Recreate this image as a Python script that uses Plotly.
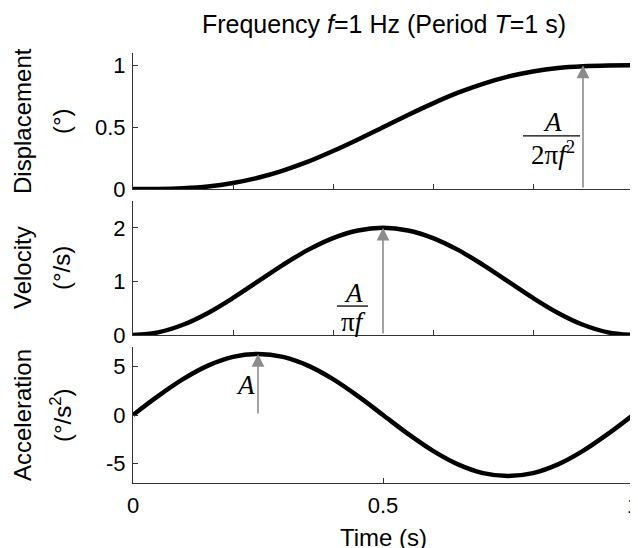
import plotly.graph_objects as go
from plotly.subplots import make_subplots

# ---- data ----
time_s = [0.00, 0.05, 0.10, 0.15, 0.20, 0.25, 0.30, 0.35, 0.40, 0.45, 0.50,
          0.55, 0.60, 0.65, 0.70, 0.75, 0.80, 0.85, 0.90, 0.95, 1.00]
displacement = [0.000, 0.001, 0.007, 0.021, 0.049, 0.091, 0.149, 0.221, 0.307, 0.401, 0.500,
                0.599, 0.693, 0.779, 0.851, 0.909, 0.951, 0.979, 0.993, 0.999, 1.000]
velocity = [0.000, 0.049, 0.191, 0.412, 0.691, 1.000, 1.309, 1.588, 1.809, 1.951, 2.000,
            1.951, 1.809, 1.588, 1.309, 1.000, 0.691, 0.412, 0.191, 0.049, 0.000]
acceleration = [0.00, 1.94, 3.69, 5.08, 5.98, 6.28, 5.98, 5.08, 3.69, 1.94, 0.00,
                -1.94, -3.69, -5.08, -5.98, -6.28, -5.98, -5.08, -3.69, -1.94, 0.00]

arrow_x = [0.9, 0.5, 0.25]          # time of each amplitude arrow
arrow_top = [1.0, 2.0, 6.28]        # amplitude reached by each arrow

y_titles = [("Displacement", "(°)"), ("Velocity", "(°/s)"), ("Acceleration", "(°/s<sup>2</sup>)")]
y_ranges = [[0, 1.1], [0, 2.5], [-7, 7]]
y_ticks = [[0, 0.5, 1], [0, 1, 2], [-5, 0, 5]]
y_ticktext = [["0", "0.5", "1"], ["0", "1", "2"], ["-5", "0", "5"]]
x_ticks_minor = [0, 0.2, 0.4, 0.6, 0.8, 1]
x_ticks_main = [0, 0.5, 1]
x_ticktext = ["0", "0.5", "1"]

W, H = 638, 548
OFF = 8                      # page body margin offsets the figure by 8px
L = 133 - OFF
R = W - (633 - OFF)
PW = W - L - R
# pixel extents (top, bottom) of each panel in the reference picture
panels = [(53, 189), (201, 335), (347, 483)]


def py(p):  # reference pixel row -> paper fraction
    return 1 - (p - OFF) / H


def px(p):  # reference pixel column -> paper fraction
    return (p - OFF - L) / PW


fig = make_subplots(rows=3, cols=1, shared_xaxes=False)

series = [displacement, velocity, acceleration]
for i, ys in enumerate(series):
    fig.add_trace(go.Scatter(x=time_s, y=ys, mode="lines", line=dict(color="black", width=4.5, shape="spline"),
                             showlegend=False, hoverinfo="skip", cliponaxis=False), row=i + 1, col=1)

sans = "Liberation Sans, Arial, sans-serif"
tick_font = dict(family=sans, size=22, color="black")
axis_col = "#333333"
for i in range(3):
    top, bot = panels[i]
    dom = [py(bot), py(top)]
    yname = "yaxis" if i == 0 else f"yaxis{i+1}"
    xname = "xaxis" if i == 0 else f"xaxis{i+1}"
    fig.layout[yname].update(domain=dom, range=y_ranges[i], tickvals=y_ticks[i], ticktext=y_ticktext[i],
                             showgrid=False, zeroline=False, showline=True, linecolor=axis_col, linewidth=1.2,
                             ticks="inside", ticklen=5, tickcolor=axis_col, tickfont=tick_font,
                             ticklabelstandoff=2, automargin=False, ticklabeloverflow="allow")
    last = (i == 2)
    fig.layout[xname].update(domain=[0, 1], range=[0, 1], showgrid=False, zeroline=False, showline=True,
                             linecolor=axis_col, linewidth=1.2, ticks="inside", ticklen=5, tickcolor=axis_col,
                             tickvals=x_ticks_main if last else x_ticks_minor,
                             ticktext=x_ticktext if last else [""] * len(x_ticks_minor),
                             showticklabels=last, tickfont=tick_font, ticklabelstandoff=2,
                             automargin=False, ticklabeloverflow="allow")
    yc = py((top + bot) / 2)
    for txt, pxl in zip(y_titles[i], [22, 61]):
        fig.add_annotation(text=txt, xref="paper", yref="paper", x=px(pxl), y=yc,
                           xanchor="center", yanchor="middle", textangle=-90, showarrow=False,
                           font=dict(family=sans, size=24, color="black"))

# amplitude arrows
refs = [("x", "y"), ("x2", "y2"), ("x3", "y3")]
for i in range(3):
    xr, yr = refs[i]
    fig.add_annotation(x=arrow_x[i], y=arrow_top[i], ax=arrow_x[i], ay=0, xref=xr, yref=yr,
                       axref=xr, ayref=yr, showarrow=True, arrowhead=2, arrowsize=1.6,
                       arrowwidth=1.6, arrowcolor="#8c8c8c", text="")

math_font = dict(family="Liberation Serif, Times New Roman, serif", size=27, color="black")
# fraction labels
fig.add_annotation(text="<i>A</i>", x=0.838, y=0.54, xref="x", yref="y", showarrow=False, font=math_font)
fig.add_annotation(text="2π<i>f</i><sup>2</sup>", x=0.840, y=0.29, xref="x", yref="y", showarrow=False, font=math_font)
fig.add_shape(type="line", x0=0.78, x1=0.894, y0=0.43, y1=0.43, xref="x", yref="y",
              line=dict(color="black", width=1.3))

fig.add_annotation(text="<i>A</i>", x=0.440, y=0.78, xref="x2", yref="y2", showarrow=False, font=math_font)
fig.add_annotation(text="π<i>f</i>", x=0.440, y=0.24, xref="x2", yref="y2", showarrow=False, font=math_font)
fig.add_shape(type="line", x0=0.408, x1=0.470, y0=0.54, y1=0.54, xref="x2", yref="y2",
              line=dict(color="black", width=1.3))

fig.add_annotation(text="<i>A</i>", x=0.224, y=3.1, xref="x3", yref="y3", showarrow=False, font=math_font)

# x title
fig.add_annotation(text="Time (s)", xref="paper", yref="paper", x=px(383), y=py(537),
                   xanchor="center", yanchor="middle", showarrow=False,
                   font=dict(family=sans, size=24, color="black"))

fig.update_layout(
    width=W, height=H, margin=dict(l=L, r=R, t=0, b=0, autoexpand=False),
    paper_bgcolor="white", plot_bgcolor="white",
    title=dict(text="Frequency <i>f</i>=1 Hz (Period <i>T</i>=1 s)", x=(384 - OFF) / W,
               xanchor="center", y=1 - (24 - OFF) / H, yanchor="middle", xref="container", yref="container",
               font=dict(family=sans, size=25, color="black")),
)

fig.write_html("out.html")
